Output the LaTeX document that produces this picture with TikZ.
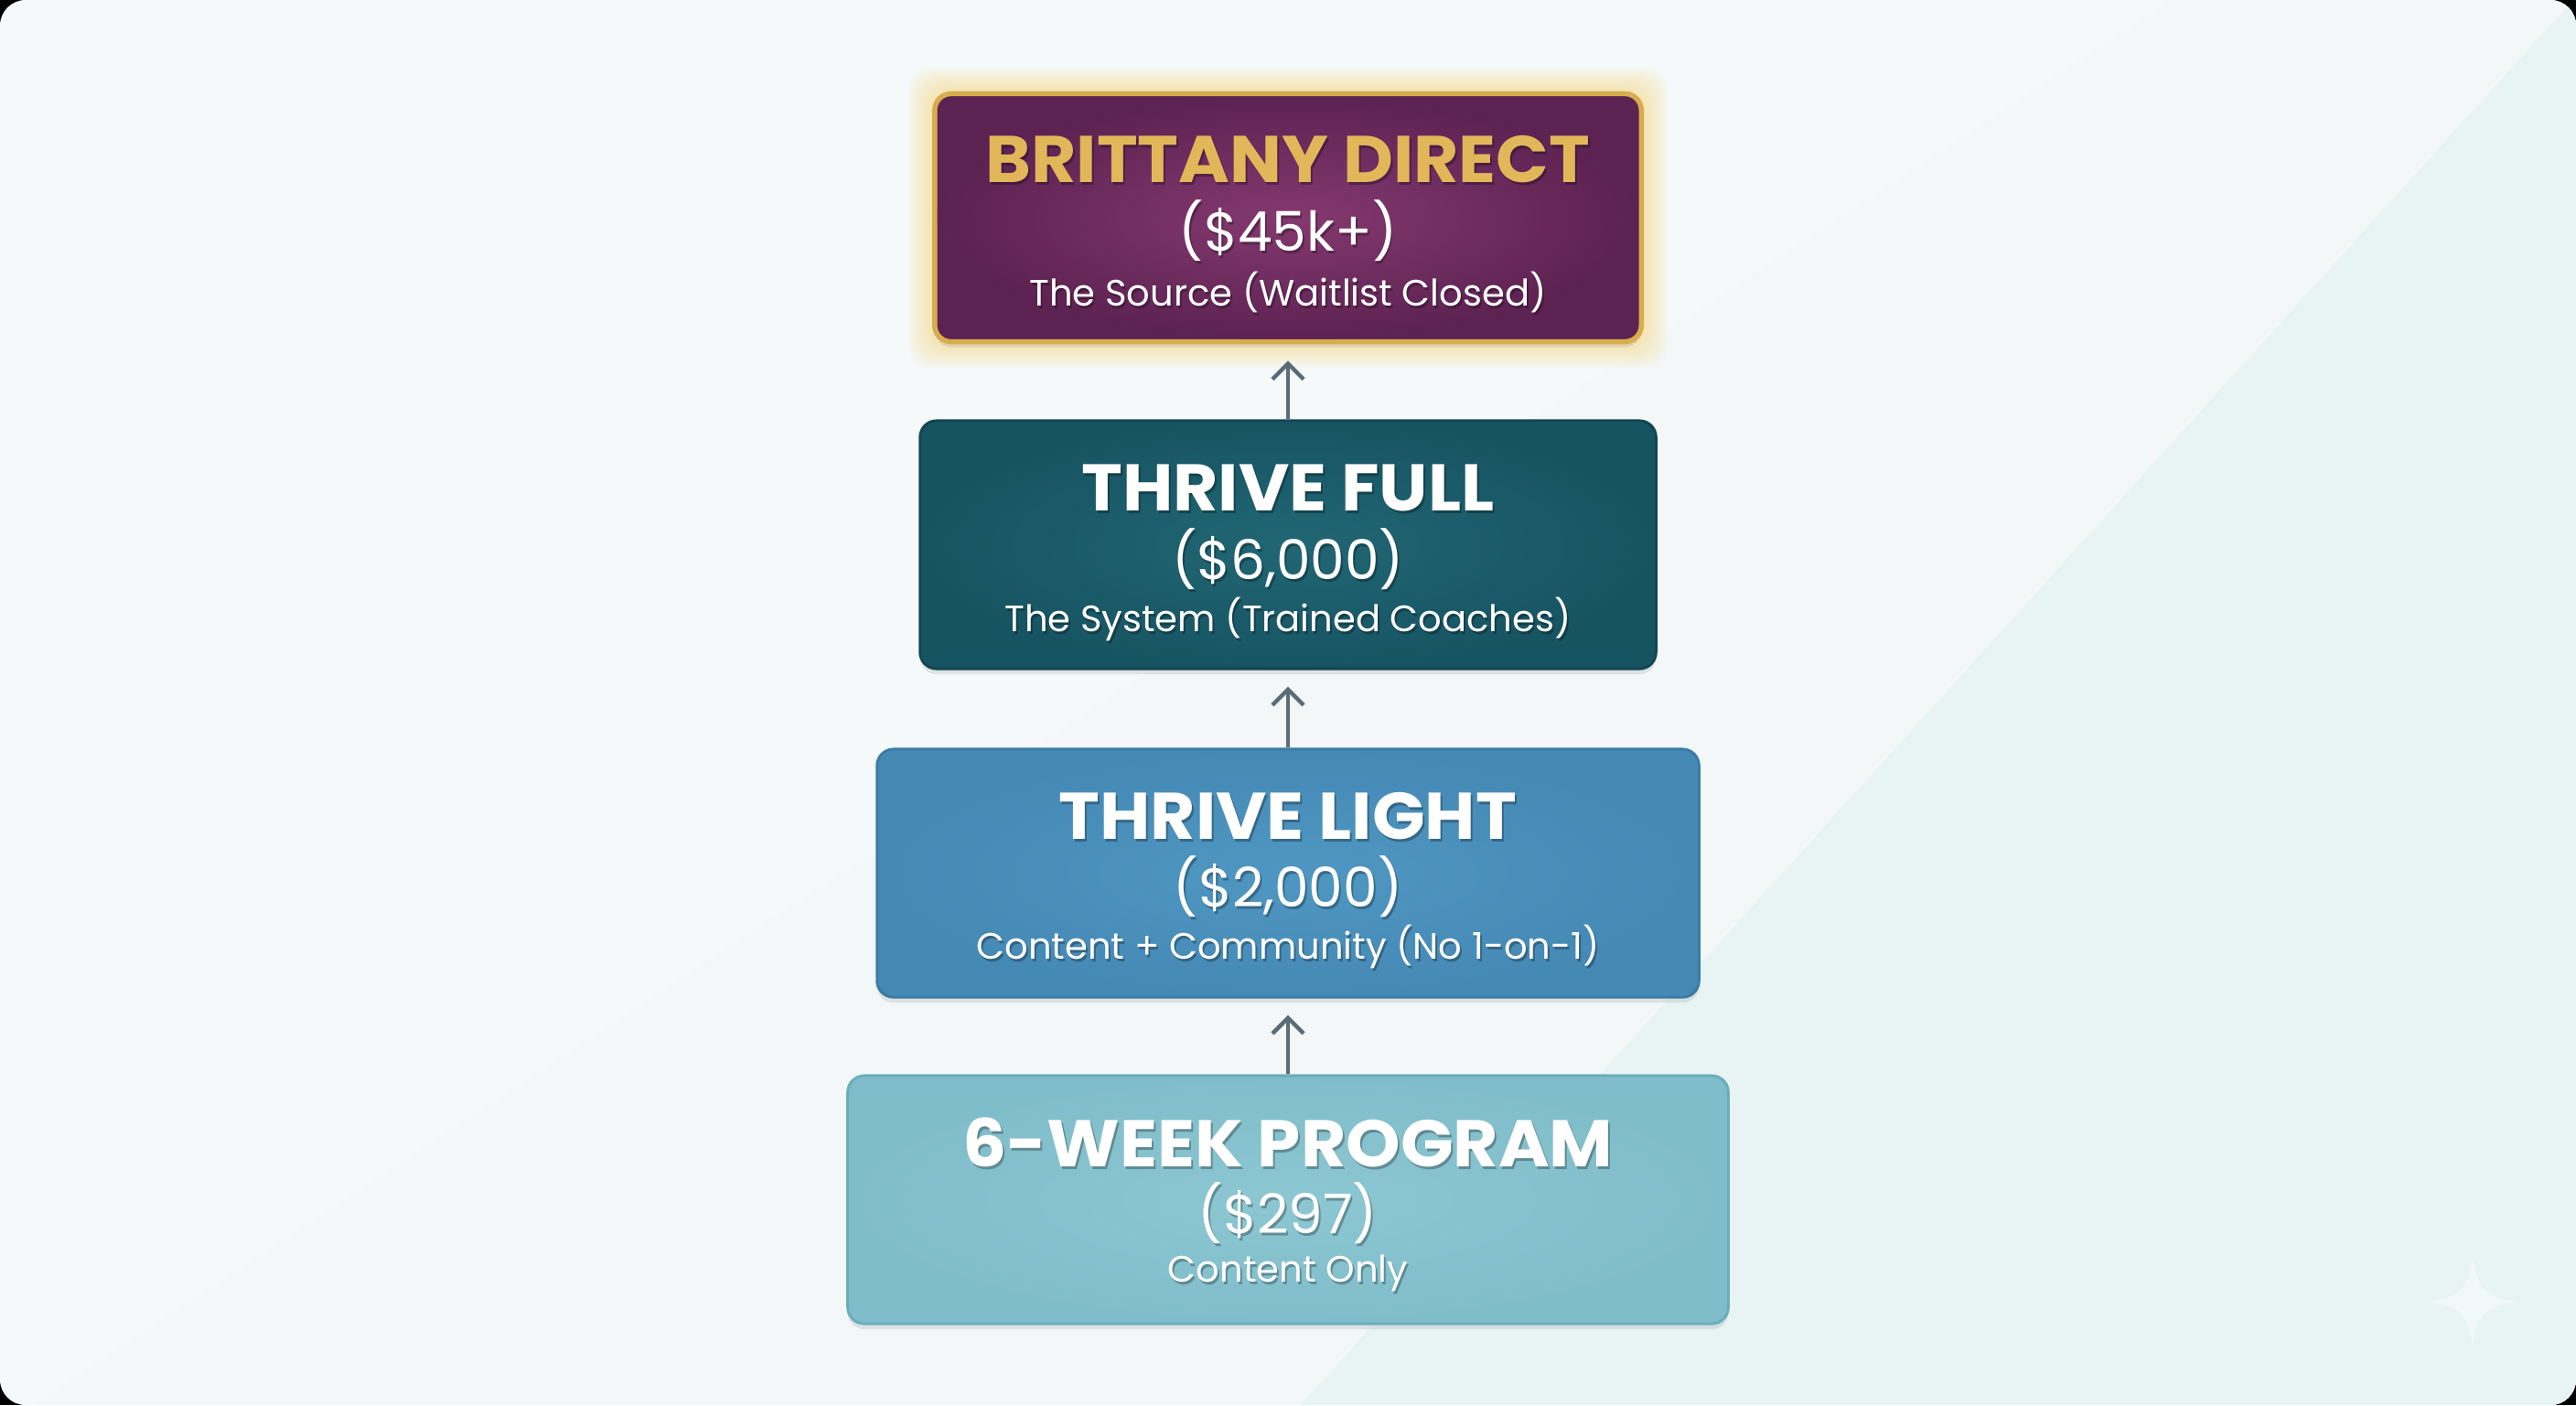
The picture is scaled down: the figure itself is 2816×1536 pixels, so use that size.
\documentclass[tikz,border=0pt]{standalone}
\usepackage{fontspec}
\setmainfont{Poppins}
\newfontfamily\popbold{Poppins}[UprightFont=* Bold, FakeStretch=1.05]
\usetikzlibrary{arrows.meta,shadows,calc}
\definecolor{bgmain}{HTML}{F5F9FA}
\definecolor{bgmint}{HTML}{E7F4F3}
\definecolor{bgfaint}{HTML}{F3F7F8}
\definecolor{purpin}{HTML}{84396F}
\definecolor{purpout}{HTML}{5C2251}
\definecolor{goldc}{HTML}{D8AD4E}
\definecolor{goldtext}{HTML}{E2B75A}
\definecolor{glowc}{HTML}{F6D670}
\definecolor{tealin}{HTML}{216674}
\definecolor{tealout}{HTML}{175462}
\definecolor{tealdraw}{HTML}{124652}
\definecolor{bluein}{HTML}{4F97C2}
\definecolor{blueout}{HTML}{4589B5}
\definecolor{bluedraw}{HTML}{3B7CA6}
\definecolor{aquain}{HTML}{8CC7D2}
\definecolor{aquaout}{HTML}{80BDCA}
\definecolor{aquadraw}{HTML}{69AEBC}
\definecolor{arrowc}{HTML}{5A6D77}
\pgfdeclarelayer{bglayer}
\pgfdeclarelayer{glowlayer}
\pgfsetlayers{bglayer,glowlayer,main}
\tikzset{
  tierbox/.style={rectangle, rounded corners=0.18cm, minimum height=2.71cm, inner sep=0pt,
    drop shadow={opacity=0.18, shadow xshift=0cm, shadow yshift=-0.06cm}},
  titletxt/.style={font=\popbold\fontsize{20.5}{24}\selectfont, text=white, inner sep=0pt},
  pricetxt/.style={font=\fontsize{17}{20}\selectfont, text=white, inner sep=0pt},
  subtxt/.style={font=\fontsize{11.4}{14}\selectfont, text=white, inner sep=0pt},
  shadowtxt/.style={text=black, opacity=0.28},
  uparrow/.style={draw=arrowc, line width=0.045cm, -{Straight Barb[length=0.17cm,width=0.34cm,line width=0.045cm]}}
}
\newcommand{\tiertext}[5]{%
  \node[#3, shadowtxt] (#1sh) at ($(#2)+(2,3)$) {#5};
  \node[#3, #4] (#1) at (#2) {#5};
}
\begin{document}
\begin{tikzpicture}[x=0.01cm,y=-0.01cm]
\useasboundingbox (0,0) rectangle (2816,1536);
\begin{pgfonlayer}{bglayer}
\fill[black] (0,0) rectangle (2816,1536);
\begin{scope}
\clip[rounded corners=0.28cm] (0,0) rectangle (2816,1536);
\fill[bgmain] (0,0) rectangle (2816,1536);
\fill[bgfaint] (0,1560) -- (2816,-290) -- (2830,1560) -- cycle;
\fill[bgmint] (2822,-10) -- (2830,1560) -- (1400,1560) -- cycle;
\fill[white, opacity=0.45] (2703,1375) .. controls (2709,1410) and (2716,1417) .. (2751,1423)
  .. controls (2716,1429) and (2709,1436) .. (2703,1471)
  .. controls (2697,1436) and (2690,1429) .. (2655,1423)
  .. controls (2690,1417) and (2697,1410) .. (2703,1375) -- cycle;
\end{scope}
\end{pgfonlayer}

% boxes
\node[tierbox, minimum width=7.72cm, inner color=purpin, outer color=purpout,
      draw=goldc, line width=0.055cm] (b1) at (1408,238) {};
\node[tierbox, minimum width=8.04cm, inner color=tealin, outer color=tealout,
      draw=tealdraw, line width=0.03cm] (b2) at (1408,595.5) {};
\node[tierbox, minimum width=8.98cm, inner color=bluein, outer color=blueout,
      draw=bluedraw, line width=0.03cm] (b3) at (1408,954.5) {};
\node[tierbox, minimum width=9.62cm, inner color=aquain, outer color=aquaout,
      draw=aquadraw, line width=0.03cm] (b4) at (1408,1311.5) {};

% glow around top box
\begin{pgfonlayer}{glowlayer}
\foreach \i in {1,...,10}{
  \fill[glowc, opacity=0.06, rounded corners=0.25cm]
    ($(b1.north west)+(-\i*2.6,-\i*2.6)$) rectangle ($(b1.south east)+(\i*2.6,\i*2.6)$);
}
\end{pgfonlayer}

% texts
\tiertext{t1a}{1408,174}{titletxt}{text=goldtext}{BRITTANY DIRECT}
\tiertext{t1b}{1408,252}{pricetxt}{}{(\$45k+)}
\tiertext{t1c}{1408,319}{subtxt}{}{The Source (Waitlist Closed)}

\tiertext{t2a}{1408,533}{titletxt}{}{THRIVE FULL}
\tiertext{t2b}{1408,611}{pricetxt}{}{(\$6,000)}
\tiertext{t2c}{1408,677}{subtxt}{}{The System (Trained Coaches)}

\tiertext{t3a}{1408,892}{titletxt}{}{THRIVE LIGHT}
\tiertext{t3b}{1408,969}{pricetxt}{}{(\$2,000)}
\tiertext{t3c}{1408,1035}{subtxt}{}{Content + Community (No 1-on-1)}

\tiertext{t4a}{1408,1249}{titletxt}{}{6-WEEK PROGRAM}
\tiertext{t4b}{1408,1326}{pricetxt}{}{(\$297)}
\tiertext{t4c}{1408,1392}{subtxt}{}{Content Only}

% arrows
\draw[uparrow] (b2.north) -- ([yshift=-0.18cm]b1.south);
\draw[uparrow] (b3.north) -- ([yshift=-0.18cm]b2.south);
\draw[uparrow] (b4.north) -- ([yshift=-0.18cm]b3.south);
\end{tikzpicture}
\end{document}
